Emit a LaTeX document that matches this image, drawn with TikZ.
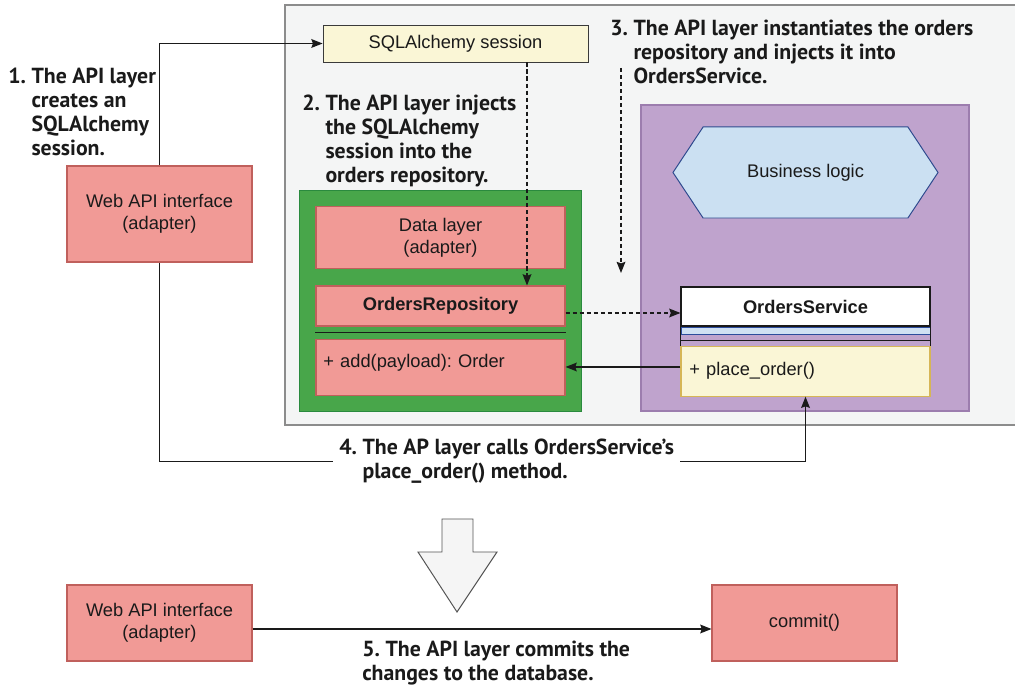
\documentclass[tikz,border=0pt]{standalone}
\usepackage{fontspec}
\setmainfont{Liberation Sans}
\newfontfamily\notefamily{PT Sans}
\usetikzlibrary{positioning, arrows.meta, shapes.symbols, fit, backgrounds}
\definecolor{ink}{HTML}{1A1A1A}
\definecolor{corefill}{HTML}{F4F5F5}
\definecolor{coreline}{HTML}{8C8C8C}
\definecolor{domainfill}{HTML}{BFA3CD}
\definecolor{domainline}{HTML}{9C7DAE}
\definecolor{zonefill}{HTML}{48A64A}
\definecolor{zoneline}{HTML}{2A8A3E}
\definecolor{adapterfill}{HTML}{F19A96}
\definecolor{adapterline}{HTML}{C0605C}
\definecolor{sessionfill}{HTML}{FAF6D6}
\definecolor{sessionline}{HTML}{3A3A3A}
\definecolor{methodfill}{HTML}{FAF6D6}
\definecolor{methodline}{HTML}{D6B656}
\definecolor{logicfill}{HTML}{CBE0F2}
\definecolor{logicline}{HTML}{2E4A8E}
\definecolor{stripefill}{HTML}{CFE0F3}
\definecolor{stripeline}{HTML}{2B4C9C}
\definecolor{bigarrowfill}{HTML}{F5F5F5}
\definecolor{bigarrowline}{HTML}{555555}
\frenchspacing
\newcommand{\boxfont}{\fontsize{13}{16}\selectfont}
\newcommand{\notefont}{\notefamily\bfseries\fontsize{15.5}{17.07}\selectfont}
\tikzset{
  corebox/.style   = {rectangle, draw=coreline, fill=corefill, line width=0.9pt,
                      minimum width=18.5cm, minimum height=10.5cm},
  domainbox/.style = {rectangle, draw=domainline, fill=domainfill, line width=0.8pt},
  datazone/.style  = {rectangle, draw=zoneline, fill=zonefill, line width=0.8pt,
                      inner sep=0.4cm},
  adapter/.style   = {rectangle, draw=adapterline, fill=adapterfill, line width=0.8pt,
                      align=center, font=\boxfont, text=ink, minimum width=4.625cm},
  session/.style   = {rectangle, draw=sessionline, fill=sessionfill, line width=0.6pt,
                      font=\boxfont, text=ink, minimum width=6.625cm, minimum height=0.925cm},
  classhead/.style = {rectangle, draw=ink, fill=white, line width=0.8pt,
                      font=\boxfont\bfseries, text=ink, minimum width=6.225cm, minimum height=0.975cm},
  stripe/.style    = {rectangle, draw=stripeline, fill=stripefill, line width=0.6pt,
                      minimum width=6.225cm, minimum height=0.175cm, inner sep=0pt},
  methodbox/.style = {rectangle, draw=methodline, fill=methodfill, line width=0.8pt,
                      font=\boxfont, text=ink, minimum width=6.225cm, minimum height=1.25cm,
                      text width=5.8cm, align=left},
  hexa/.style      = {signal, signal to=east and west, signal pointer angle=113,
                      draw=logicline, fill=logicfill, line width=0.7pt, font=\boxfont,
                      text=ink, minimum width=6.625cm, minimum height=2.275cm},
  stepnote/.style  = {anchor=west, inner sep=0pt, font=\notefont, text=ink},
  wire/.style      = {line width=0.8pt, draw=ink},
  ar/.style        = {-{Stealth[length=2.8mm,width=2.2mm,inset=0.4mm]}, line width=0.8pt, draw=ink},
  dar/.style       = {ar, dash pattern=on 3pt off 2pt},
  bigarrow/.style  = {draw=bigarrowline, fill=bigarrowfill, line width=0.7pt, line join=miter},
}

\begin{document}
\begin{tikzpicture}[x=0.025cm, y=-0.025cm]
  \useasboundingbox (0,0) rectangle (1015,688);

  \node[adapter, minimum height=2.4cm] (webapi) at (159.5,214) {Web API interface\\(adapter)};
  \node[session] (sql) at (455.5,43.5) {SQLAlchemy session};

  \node[adapter, font=\boxfont\bfseries, minimum width=6.225cm, minimum height=1.0cm] (repo)
       at (440.5,306) {OrdersRepository};
  \node[adapter, minimum width=6.225cm, minimum height=1.55cm, above=0.4cm of repo] (datalayer)
       {Data layer\\(adapter)};
  \node[adapter, minimum width=6.225cm, minimum height=1.4cm, text width=5.85cm, align=left,
        text depth=0.3cm, below=0.3cm of repo] (repom) {+ add(payload): Order};
  \draw[wire] ([yshift=-0.15cm]repo.south west) -- ([yshift=-0.15cm]repo.south east);

  \node[hexa] (logic) at (805.5,172.5) {Business logic};

  \node[classhead] (svc) at (805.5,306.5) {OrdersService};
  \node[stripe, below=0pt of svc] (svcattr) {};
  \node[methodbox, below=0.475cm of svc] (svcm) {+ place\_order()};
  \draw[wire] (svc.south west) -- (svcm.north west);
  \draw[wire] (svc.south east) -- (svcm.north east);
  \draw[wire] ([yshift=-0.15cm]svcattr.south west) -- ([yshift=-0.15cm]svcattr.south east);

  \begin{scope}[on background layer]
    \node[corebox] (core) at (655,215) {};
    \node[domainbox, minimum width=8.2cm, minimum height=7.65cm] (domain) at (805,258) {};
    \node[datazone, fit=(datalayer)(repom)] (zone) {};
  \end{scope}

  \node[stepnote] (note1) at (8,115)
       {\begin{tabular}{@{}l@{\ }l@{}}1.&The API layer\\&creates an\\&SQLAlchemy\\&session.\end{tabular}};
  \node[stepnote] (note2) at (302,142)
       {\begin{tabular}{@{}l@{\ }l@{}}2.&The API layer injects\\&the SQLAlchemy\\&session into the\\&orders repository.\end{tabular}};
  \node[stepnote] (note3) at (610,54.5)
       {\begin{tabular}{@{}l@{\ }l@{}}3.&The API layer instantiates the orders\\&repository and injects it into\\&OrdersService.\end{tabular}};
  \node[stepnote, inner xsep=0.15cm] (note4) at (333,461.5)
       {\begin{tabular}{@{}l@{\ }l@{}}4.&The AP layer calls OrdersService’s\\&place\_order() method.\end{tabular}};

  \coordinate (inject3) at (621,68);
  \coordinate (inject3end) at (621,273);

  \draw[ar] (webapi.north) |- (sql.west);
  \draw[dar] (sql.south -| 527,0) -- (repo.north -| 527,0);
  \draw[dar] (inject3) -- (inject3end);
  \draw[dar] (repo.east |- 0,313) -- (svc.west |- 0,313);
  \draw[ar] (svcm.west |- 0,367) -- (repom.east |- 0,367);
  \draw[wire] (webapi.south) |- (note4.west);
  \draw[ar] (note4.east) -| (svcm.south);

  \draw[bigarrow] (442,519) -- (473,519) -- (473,552) -- (497,552) -- (457,612)
       -- (418,552) -- (442,552) -- cycle;

  \node[adapter, minimum height=1.9cm] (webapi2) at (159.5,623) {Web API interface\\(adapter)};
  \node[adapter, minimum height=1.9cm] (commit) at (804.5,623) {commit()};
  \draw[ar] (webapi2.east |- 0,629) -- (commit.west |- 0,629);

  \node[stepnote] (note5) at (362,664)
       {\begin{tabular}{@{}l@{}}5. The API layer commits the\\changes to the database.\end{tabular}};

\end{tikzpicture}
\end{document}
